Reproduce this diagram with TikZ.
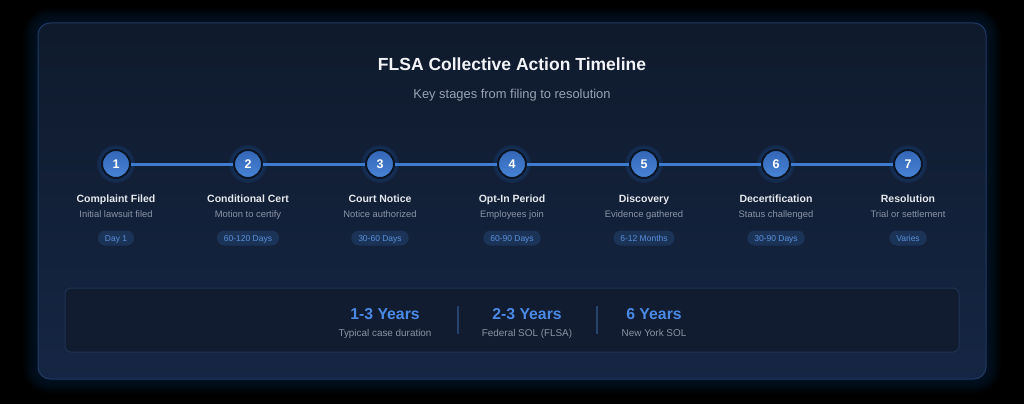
\documentclass[tikz,border=0pt]{standalone}
\usepackage{fontspec}
\setmainfont{Liberation Sans}
\definecolor{cardtop}{HTML}{0F1A2C}
\definecolor{cardbot}{HTML}{152644}
\definecolor{cardline}{HTML}{1F3A60}
\definecolor{glowc}{HTML}{1C4A8C}
\definecolor{linec}{HTML}{407BD2}
\definecolor{circtop}{HTML}{3466B6}
\definecolor{circbot}{HTML}{4884D6}
\definecolor{circrim}{HTML}{0C1524}
\definecolor{titlec}{HTML}{F2F4F7}
\definecolor{subc}{HTML}{98A2B3}
\definecolor{stepc}{HTML}{E6E9EE}
\definecolor{descc}{HTML}{8A94A6}
\definecolor{badgef}{HTML}{1B3356}
\definecolor{badget}{HTML}{5A90DE}
\definecolor{statf}{HTML}{111C30}
\definecolor{statl}{HTML}{1E3352}
\definecolor{statn}{HTML}{4A8AE6}
\definecolor{divc}{HTML}{26436B}
\tikzset{
  stepcirc/.style={circle, minimum size=28pt, inner sep=0pt, draw=circrim, line width=2pt,
    top color=circtop, bottom color=circbot, text=white, font=\bfseries\fontsize{12.5}{12}\selectfont},
  conn/.style={draw=linec, line width=3pt},
  basetext/.style={anchor=base, inner sep=0pt},
  steptitle/.style={basetext, text=stepc, font=\bfseries\fontsize{10.5}{12}\selectfont},
  stepdesc/.style={basetext, text=descc, font=\fontsize{9.4}{11}\selectfont},
  badge/.style={fill=badgef, rounded corners=7.5pt, text=badget, text height=6.1pt, text depth=0pt,
    inner xsep=7pt, inner ysep=4.45pt, font=\fontsize{8.5}{9}\selectfont},
  statnum/.style={basetext, text=statn, font=\bfseries\fontsize{15.8}{18}\selectfont},
  statlab/.style={basetext, text=descc, font=\fontsize{9.9}{11}\selectfont},
}
\begin{document}
\begin{tikzpicture}[x=1pt,y=-1pt]
\useasboundingbox (0,0) rectangle (1024,404);
\fill[black] (0,0) rectangle (1024,404);
% glow
\foreach \k in {1,...,10}{
  \fill[glowc, opacity=0.03, rounded corners={12pt+\k*1.5pt}]
    ({38-\k*1.5},{23-\k*1.5}) rectangle ({986+\k*1.5},{379+\k*1.5});
}
% card
\path[top color=cardtop, bottom color=cardbot, rounded corners=12pt] (38,23) rectangle (986,379);
\draw[cardline, line width=1pt, rounded corners=12pt] (38,23) rectangle (986,379);
% title
\node[basetext, text=titlec, font=\bfseries\fontsize{17.5}{20}\selectfont] (title) at (512,70.8) {FLSA Collective Action Timeline};
\node[basetext, text=subc, font=\fontsize{12.9}{14}\selectfont] (subtitle) at (512,98.3) {Key stages from filing to resolution};
% steps
\foreach \i/\t/\d/\b in {1/Complaint Filed/Initial lawsuit filed/Day 1,
  2/Conditional Cert/Motion to certify/60-120 Days,
  3/Court Notice/Notice authorized/30-60 Days,
  4/Opt-In Period/Employees join/60-90 Days,
  5/Discovery/Evidence gathered/6-12 Months,
  6/Decertification/Status challenged/30-90 Days,
  7/Resolution/Trial or settlement/Varies}{
  \pgfmathsetmacro{\xx}{116+(\i-1)*132}
  \fill[glowc, opacity=0.22] (\xx,164) circle (19pt);
  \fill[glowc, opacity=0.22] (\xx,164) circle (17pt);
  \node[stepcirc] (s\i) at (\xx,164) {\i};
  \node[steptitle] (t\i) at (\xx,202.2) {\t};
  \node[stepdesc] (d\i) at (\xx,217.4) {\d};
  \node[badge] (b\i) at (\xx,238) {\b};
}
\foreach \a/\b in {1/2,2/3,3/4,4/5,5/6,6/7}{
  \draw[conn] (s\a) -- (s\b);
}
% stats box
\draw[fill=statf, draw=statl, line width=1pt, rounded corners=6pt] (65,288) rectangle (959,352);
\node[statnum] (n1) at (385,319) {1-3 Years};
\node[statlab] (l1) at (385,336) {Typical case duration};
\node[statnum] (n2) at (527,319) {2-3 Years};
\node[statlab] (l2) at (527,336) {Federal SOL (FLSA)};
\node[statnum] (n3) at (654,319) {6 Years};
\node[statlab] (l3) at (654,336) {New York SOL};
\coordinate (v1a) at (458,306); \coordinate (v1b) at (458,334);
\coordinate (v2a) at (597,306); \coordinate (v2b) at (597,334);
\draw[divc, line width=1.2pt] (v1a) -- (v1b);
\draw[divc, line width=1.2pt] (v2a) -- (v2b);
\end{tikzpicture}
\end{document}
